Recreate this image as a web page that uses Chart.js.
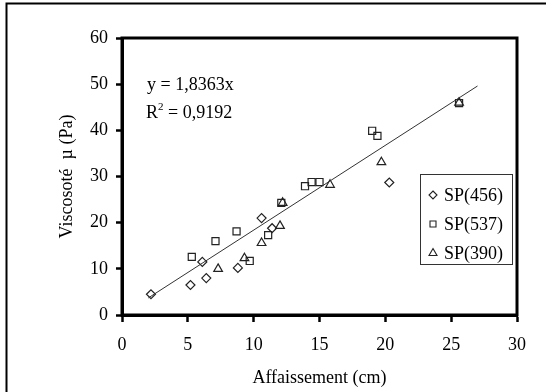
<!DOCTYPE html>
<html>
<head>
<meta charset="utf-8">
<script src="https://cdn.jsdelivr.net/npm/chart.js"></script>
<style>
  body { margin: 0; background: #fff; }
  canvas { display: block; }
</style>
</head>
<body>
<canvas id="chart" width="546" height="392"></canvas>
<script>
// values
const sp456X = [2.2, 5.2, 6.1, 6.4, 8.8, 10.6, 11.4, 20.3]
const sp456Y = [4.5, 6.5, 11.5, 8.0, 10.2, 21.0, 18.8, 28.7]

const sp537X = [5.3, 7.1, 8.7, 9.7, 11.1, 12.1, 13.9, 14.4, 15.0, 19.0, 19.4, 25.6]
const sp537Y = [12.6, 16.0, 18.1, 11.7, 17.3, 24.3, 27.9, 28.8, 28.8, 39.9, 38.8, 45.9]

const sp390X = [7.3, 9.3, 10.6, 12.0, 12.2, 15.8, 19.7, 25.6]
const sp390Y = [10.0, 12.3, 15.6, 19.3, 24.3, 28.2, 33.1, 46.0]

// trend line ends (y = 1,8363x)
const fitX = [2.0, 27.0]
const fitY = [3.7, 49.6]

const xTicks = [0, 5, 10, 15, 20, 25, 30]
const yTicks = [0, 10, 20, 30, 40, 50, 60]

const FONT = 'Liberation Serif'
const INK = '#222'

function toPoints(xs, ys) {
  return xs.map((x, i) => ({ x: x, y: ys[i] }))
}

function marker(ctx, style, x, y) {
  ctx.beginPath()
  if (style === 'rectRot') {
    ctx.moveTo(x, y - 4); ctx.lineTo(x + 4, y); ctx.lineTo(x, y + 4); ctx.lineTo(x - 4, y)
  } else if (style === 'rect') {
    ctx.rect(x - 3, y - 3, 6, 6)
  } else {
    ctx.moveTo(x, y - 4.5); ctx.lineTo(x + 4, y + 2.5); ctx.lineTo(x - 4, y + 2.5)
  }
  ctx.closePath()
  ctx.stroke()
}

const framePlugin = {
  id: 'frame',
  beforeDraw(chart) {
    const ctx = chart.ctx
    ctx.save()
    ctx.fillStyle = '#fff'
    ctx.fillRect(0, 0, chart.width, chart.height)
    ctx.restore()
  },
  afterDraw(chart) {
    const { ctx, chartArea: a } = chart
    ctx.save()
    // plot box
    ctx.strokeStyle = '#000'
    ctx.lineWidth = 3
    ctx.strokeRect(a.left, a.top, a.right - a.left, a.bottom - a.top)
    // outer frame of the figure
    ctx.lineWidth = 2
    ctx.beginPath()
    ctx.moveTo(6.5, 392)
    ctx.lineTo(6.5, 3.5)
    ctx.lineTo(546, 3.5)
    ctx.stroke()

    // equation
    ctx.fillStyle = '#000'
    ctx.textBaseline = 'alphabetic'
    ctx.font = '18px "' + FONT + '"'
    ctx.fillText('y = 1,8363x', 147, 90)
    ctx.fillText('R', 146, 118)
    let w = ctx.measureText('R').width
    ctx.font = '11px "' + FONT + '"'
    ctx.fillText('2', 146 + w, 110)
    let w2 = ctx.measureText('2').width
    ctx.font = '18px "' + FONT + '"'
    ctx.fillText(' = 0,9192', 146 + w + w2, 118)

    // legend
    ctx.strokeStyle = '#333'
    ctx.lineWidth = 1
    ctx.strokeRect(420.5, 174.5, 92, 90)
    const items = chart.data.datasets.filter(d => d.showInLegend)
    items.forEach((d, i) => {
      const y = 195 + i * 29
      ctx.strokeStyle = INK
      ctx.lineWidth = 1.1
      marker(ctx, d.pointStyle, 433, y)
      ctx.fillStyle = '#000'
      ctx.textBaseline = 'middle'
      ctx.font = '18px "' + FONT + '"'
      ctx.fillText(d.label, 444, y + 1)
    })
    ctx.restore()
  }
}

function series(label, xs, ys, style, radius) {
  return {
    label: label,
    data: toPoints(xs, ys),
    showLine: false,
    pointStyle: style,
    pointRadius: radius,
    pointBorderColor: INK,
    pointBackgroundColor: 'rgba(0,0,0,0)',
    pointBorderWidth: 1.2,
    showInLegend: true
  }
}

const ctx = document.getElementById('chart').getContext('2d')
const myChart = new Chart(ctx, {
  type: 'scatter',
  data: {
    datasets: [
      {
        label: 'fit',
        data: toPoints(fitX, fitY),
        showLine: true,
        borderColor: '#333',
        borderWidth: 1,
        pointRadius: 0,
        showInLegend: false
      },
      series('SP(456)', sp456X, sp456Y, 'rectRot', 4.5),
      series('SP(537)', sp537X, sp537Y, 'rect', 5),
      series('SP(390)', sp390X, sp390Y, 'triangle', 5)
    ]
  },
  options: {
    responsive: false,
    animation: false,
    devicePixelRatio: 1,
    layout: { padding: { top: 38, right: 29, left: 0, bottom: 0 } },
    plugins: {
      legend: { display: false },
      tooltip: { enabled: false }
    },
    scales: {
      x: {
        type: 'linear',
        min: 0,
        max: 30,
        afterBuildTicks: scale => { scale.ticks = xTicks.map(v => ({ value: v })) },
        afterFit: scale => { scale.height = 77 },
        grid: { drawOnChartArea: false, tickLength: 7, tickWidth: 2.5, tickColor: '#000' },
        border: { display: true, width: 3, color: '#000' },
        ticks: { padding: 12, color: '#000', font: { family: FONT, size: 18 } },
        title: {
          display: true,
          text: 'Affaissement (cm)',
          color: '#000',
          padding: { top: 0, bottom: 3 },
          font: { family: FONT, size: 18 }
        }
      },
      y: {
        type: 'linear',
        min: 0,
        max: 60,
        afterBuildTicks: scale => { scale.ticks = yTicks.map(v => ({ value: v })) },
        afterFit: scale => { scale.width = 122 },
        grid: { drawOnChartArea: false, tickLength: 6, tickWidth: 2.5, tickColor: '#000' },
        border: { display: true, width: 3, color: '#000' },
        ticks: { padding: 8, color: '#000', font: { family: FONT, size: 18 } },
        title: {
          display: true,
          text: 'Viscosoté  µ (Pa)',
          color: '#000',
          padding: { top: 56, bottom: 0 },
          font: { family: FONT, size: 18 }
        }
      }
    }
  },
  plugins: [framePlugin]
})
</script>
</body>
</html>
